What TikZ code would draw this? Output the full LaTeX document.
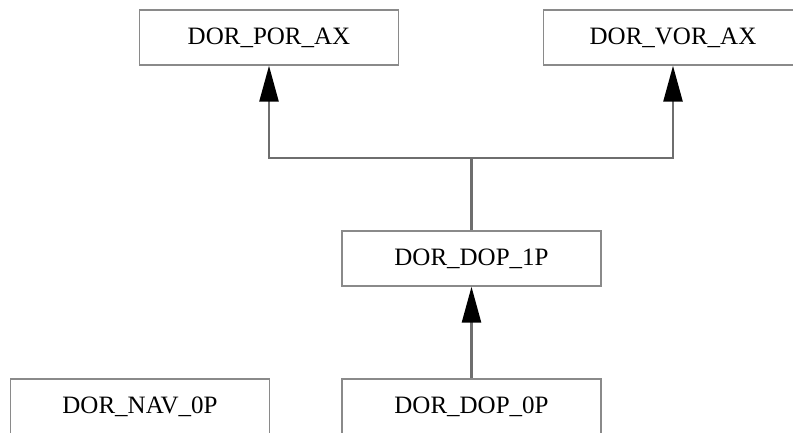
\documentclass[tikz,border=0pt]{standalone}
\usepackage{fontspec}
\setmainfont{Liberation Serif}
\usetikzlibrary{arrows.meta}
\definecolor{boxgray}{HTML}{8A8A8A}
\definecolor{linegray}{HTML}{6E6E6E}
\tikzset{
  classbox/.style={draw=boxgray, line width=1.4pt, fill=white, rectangle,
    minimum width=259pt, minimum height=55pt, inner sep=0pt,
    font=\fontsize{25}{30}\selectfont},
  inherit/.style={draw=linegray, line width=2.6pt,
    -{Triangle[width=19pt,length=36pt,color=black]}},
  plainline/.style={draw=linegray, line width=2.6pt}
}
\begin{document}
\begin{tikzpicture}[x=1pt,y=-1pt]
\useasboundingbox (0,0) rectangle (793,432);
\clip (0,0) rectangle (793,432);
\node[classbox] (por) at (269,37.5) {DOR\_POR\_AX};
\node[classbox] (vor) at (673,37.5) {DOR\_VOR\_AX};
\node[classbox] (dop1) at (471.5,258.5) {DOR\_DOP\_1P};
\node[classbox] (dop0) at (471.5,406.5) {DOR\_DOP\_0P};
\node[classbox] (nav) at (140,406.5) {DOR\_NAV\_0P};
\coordinate (j) at (471.5,158);
\draw[plainline] (dop1.north) -- (j);
\draw[inherit] (j) -| (por.south);
\draw[inherit] (j) -| (vor.south);
\draw[inherit] (dop0.north) -- (dop1.south);
\end{tikzpicture}
\end{document}
